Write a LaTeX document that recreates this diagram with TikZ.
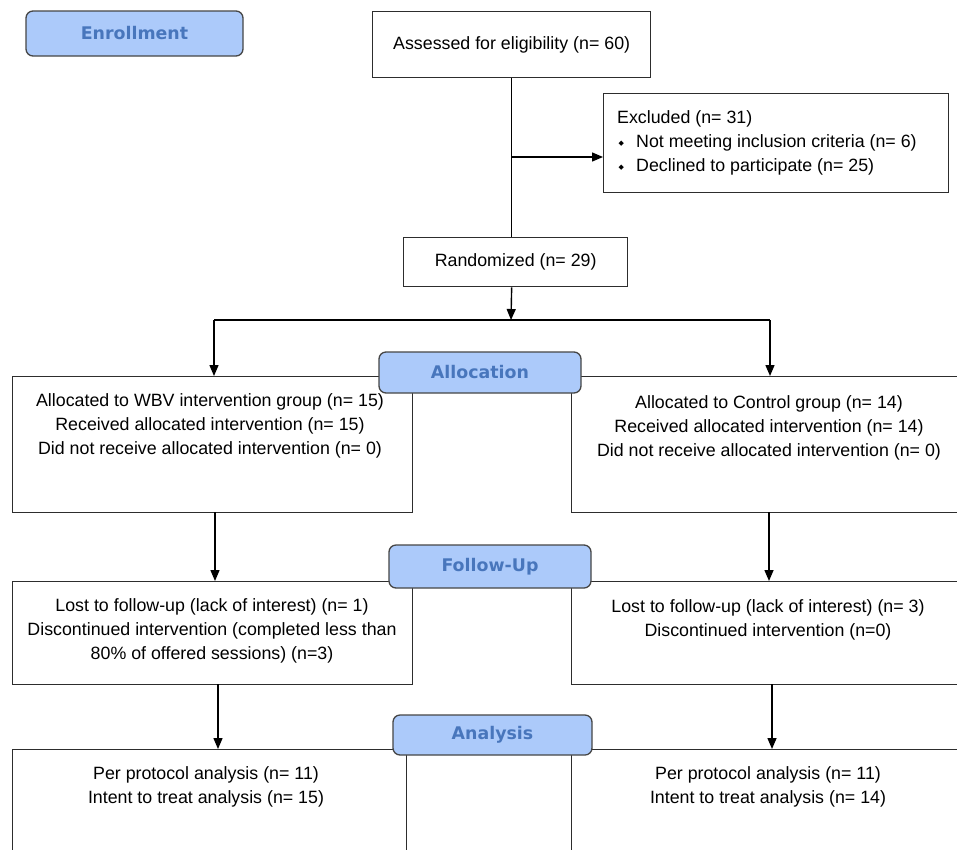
\documentclass[tikz,border=0pt]{standalone}
\usepackage{fontspec}
\setmainfont{Liberation Sans}
\newfontfamily\phasefont{DejaVu Sans}
\newfontfamily\symfont{DejaVu Sans}
\usetikzlibrary{arrows.meta}
\definecolor{boxgray}{RGB}{45,45,45}
\definecolor{phasefill}{RGB}{172,202,250}
\definecolor{phaseborder}{RGB}{70,70,70}
\definecolor{phasetext}{RGB}{72,118,188}
\newcommand{\dmd}{\makebox[19pt][l]{\hspace{1.5pt}\raisebox{2pt}{\symfont\fontsize{7}{7}\selectfont ◆}}}
\begin{document}
\begin{tikzpicture}[x=1pt,y=-1pt,
  box/.style={draw=boxgray, line width=1.3pt, rectangle, inner sep=0pt, anchor=north west, fill=white},
  phase/.style={draw=phaseborder, fill=phasefill, rounded corners=7pt, line width=1.3pt,
     font=\phasefont\bfseries\fontsize{17.4}{20}\selectfont, text=phasetext, inner sep=0pt},
  txt/.style={font=\fontsize{17.8}{24}\selectfont, align=center, inner sep=0pt, text=black},
  ln/.style={line width=1.4pt, draw=black},
  arr/.style={line width=1.4pt, draw=black, -{Triangle[length=11pt,width=9pt]}}
]
\useasboundingbox (0,0) rectangle (957,849);
\clip (0,0) rectangle (957,849);
\fill[white] (0,0) rectangle (957,849);

% boxes
\node[box, minimum width=278pt, minimum height=66pt, txt] (assess) at (372,11) {Assessed for eligibility (n= 60)};
\node[box, minimum width=345pt, minimum height=99pt] (excluded) at (603,93) {};
\node[box, minimum width=224pt, minimum height=49pt, txt] (random) at (403,237) {Randomized (n= 29)};
\node[box, minimum width=400pt, minimum height=136pt] (allocL) at (12,376) {};
\node[box, minimum width=420pt, minimum height=136pt] (allocR) at (571,376) {};
\node[box, minimum width=400pt, minimum height=103pt] (followL) at (12,581) {};
\node[box, minimum width=420pt, minimum height=103pt] (followR) at (571,581) {};
\node[box, minimum width=394pt, minimum height=150pt] (analL) at (12,749) {};
\node[box, minimum width=420pt, minimum height=150pt] (analR) at (571,749) {};

% texts
\node[txt, align=left, anchor=west] (extxt) at (617,142.5) {Excluded (n= 31)\\\dmd Not meeting inclusion criteria (n= 6)\\\dmd Declined to participate (n= 25)};
\node[txt] (allocLtxt) at (210,425.5) {Allocated to WBV intervention group (n= 15)\\Received allocated intervention (n= 15)\\Did not receive allocated intervention (n= 0)};
\node[txt] (allocRtxt) at (769,428) {Allocated to Control group (n= 14)\\Received allocated intervention (n= 14)\\Did not receive allocated intervention (n= 0)};
\node[txt] (followLtxt) at (212,631) {Lost to follow-up (lack of interest) (n= 1)\\Discontinued intervention (completed less than\\80\% of offered sessions) (n=3)};
\node[txt] (followRtxt) at (768,619.5) {Lost to follow-up (lack of interest) (n= 3)\\Discontinued intervention (n=0)};
\node[txt] (analLtxt) at (206,786.5) {Per protocol analysis (n= 11)\\Intent to treat analysis (n= 15)};
\node[txt] (analRtxt) at (768,787) {Per protocol analysis (n= 11)\\Intent to treat analysis (n= 14)};

% connectors
\coordinate (exarr) at (511,157);
\coordinate (split) at (511,320);
\coordinate (splitL) at (214,320);
\coordinate (splitR) at (770,320);
\coordinate (fuL) at (215,512);
\coordinate (fuR) at (769,512);
\coordinate (anL) at (218,684);
\coordinate (anR) at (772,684);
\draw[ln] (assess.south) -- (assess.south |- random.north);
\draw[arr] (assess.south |- exarr) -- (excluded.west |- exarr);
\draw[arr] (assess.south |- random.south) -- (split);
\draw[ln] (splitL) -- (splitR);
\draw[arr] (splitL) -- (splitL |- allocL.north);
\draw[arr] (splitR) -- (splitR |- allocR.north);
\draw[arr] (fuL) -- (fuL |- followL.north);
\draw[arr] (fuR) -- (fuR |- followR.north);
\draw[arr] (anL) -- (anL |- analL.north);
\draw[arr] (anR) -- (anR |- analR.north);

% phase labels
\node[phase, minimum width=217pt, minimum height=45pt] (enroll) at (134.5,33.5) {Enrollment};
\node[phase, minimum width=202pt, minimum height=41pt] (alloc) at (480,372.5) {Allocation};
\node[phase, minimum width=202pt, minimum height=43pt] (follow) at (490,566.5) {Follow-Up};
\node[phase, minimum width=199pt, minimum height=40pt] (anal) at (492.5,735) {Analysis};
\end{tikzpicture}
\end{document}
